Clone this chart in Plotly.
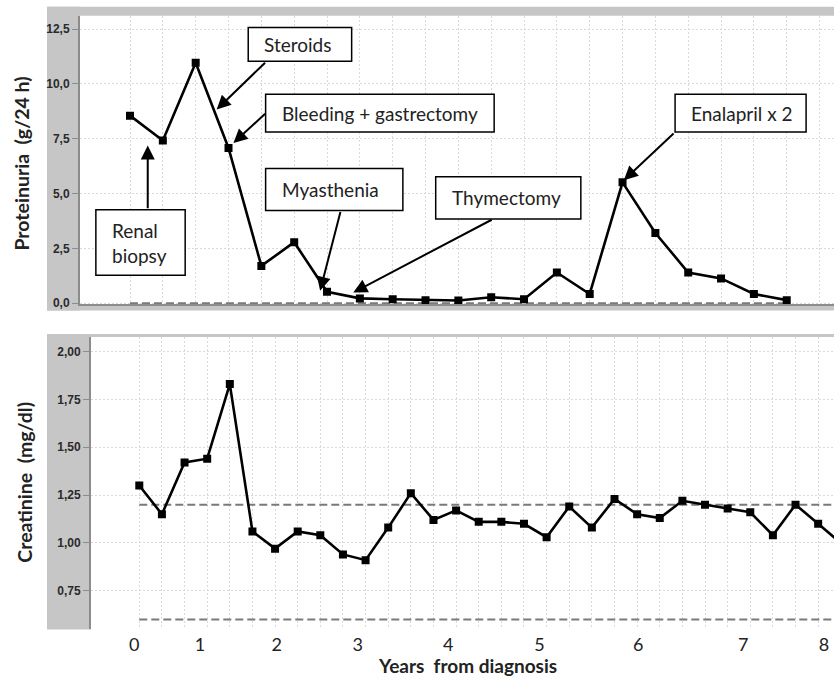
import plotly.graph_objects as go

# ---------------- data ----------------
# Proteinuria (g/24 h), one value per visit (visit index 0..20)
proteinuria = [8.55, 7.42, 10.96, 7.08, 1.70, 2.78, 0.52, 0.22, 0.18, 0.14, 0.12,
               0.27, 0.18, 1.40, 0.42, 5.51, 3.20, 1.40, 1.13, 0.42, 0.14]
proteinuria_ref = 0.0

# Creatinine (mg/dl), one value per visit (visit index 0..31)
creatinine = [1.30, 1.15, 1.42, 1.44, 1.83, 1.06, 0.97, 1.06, 1.04, 0.94, 0.91,
              1.08, 1.26, 1.12, 1.17, 1.11, 1.11, 1.10, 1.03, 1.19, 1.08, 1.23,
              1.15, 1.13, 1.22, 1.20, 1.18, 1.16, 1.04, 1.20, 1.10, 1.00]
creatinine_ref_upper = 1.2
creatinine_ref_lower = 0.6

# Year labels and their positions on the creatinine visit axis
year_labels = ["0", "1", "2", "3", "4", "5", "6", "7", "8"]
year_positions = [-0.22, 2.68, 6.07, 9.65, 13.65, 17.68, 22.05, 26.69, 30.26]

prot_ticks = [0.0, 2.5, 5.0, 7.5, 10.0, 12.5]
prot_ticktext = ["0,0", "2,5", "5,0", "7,5", "10,0", "12,5"]
creat_ticks = [0.75, 1.00, 1.25, 1.50, 1.75, 2.00]
creat_ticktext = ["0,75", "1,00", "1,25", "1,50", "1,75", "2,00"]

# Event annotations (box in proteinuria data coords, arrow tail -> head)
events = [
    dict(text="Steroids", box=(3.60, 6.75, 11.03, 12.57), tail=(4.16, 11.03), head=(2.64, 8.83)),
    dict(text="Bleeding + gastrectomy", box=(4.13, 11.09, 7.80, 9.53), tail=(4.16, 8.70), head=(3.15, 7.30)),
    dict(text="Renal<br>biopsy", box=(-1.04, 1.68, 1.27, 4.26), tail=(0.54, 4.26), head=(0.54, 7.19)),
    dict(text="Myasthenia", box=(4.13, 8.31, 4.23, 6.14), tail=(6.42, 4.23), head=(5.79, 0.57)),
    dict(text="Thymectomy", box=(9.31, 13.73, 3.84, 5.77), tail=(11.06, 3.84), head=(6.80, 0.49)),
    dict(text="Enalapril x 2", box=(16.60, 20.59, 7.80, 9.53), tail=(16.60, 7.80), head=(15.04, 5.61)),
]

# ---------------- layout helpers ----------------
W, H = 834, 682
def xp(px):
    return px / W
def yp(py):
    return 1 - py / H

GRAY = "#c6c6c6"
AXLINE = "#8c8c8c"
GRID = "#d9d9d9"
GRIDDASH = "2px,2px"
DASH = "#7a7a7a"
TXT = "Lato"

fig = go.Figure()

prot_x = list(range(len(proteinuria)))
creat_x = list(range(len(creatinine)))

fig.add_trace(go.Scatter(x=[prot_x[0], prot_x[-1]], y=[proteinuria_ref] * 2,
                         mode="lines", line=dict(color=DASH, width=2, dash="8px,4px"),
                         xaxis="x", yaxis="y", hoverinfo="skip", showlegend=False))
fig.add_trace(go.Scatter(x=prot_x, y=proteinuria, mode="lines+markers",
                         line=dict(color="black", width=2.6),
                         marker=dict(symbol="square", size=8, color="black"),
                         xaxis="x", yaxis="y", showlegend=False))

for ref in (creatinine_ref_upper, creatinine_ref_lower):
    fig.add_trace(go.Scatter(x=[creat_x[0], creat_x[-1]], y=[ref] * 2,
                             mode="lines", line=dict(color=DASH, width=2, dash="8px,4px"),
                             xaxis="x2", yaxis="y2", hoverinfo="skip", showlegend=False))
fig.add_trace(go.Scatter(x=creat_x, y=creatinine, mode="lines+markers",
                         line=dict(color="black", width=2.6),
                         marker=dict(symbol="square", size=8, color="black"),
                         xaxis="x2", yaxis="y2", showlegend=False))

tickfont = dict(family="Liberation Sans", size=12, color="#2a2a2a", weight="bold")

shapes = []
for (x0, x1, y0, y1) in [(47, 80, 6.7, 313.3), (47, 834, 6.7, 16), (47, 834, 307, 313.3),
                         (47, 91, 337, 635), (47, 834, 337, 340)]:
    shapes.append(dict(type="rect", xref="paper", yref="paper",
                       x0=xp(x0), x1=xp(x1), y0=yp(y1), y1=yp(y0),
                       fillcolor=GRAY, line=dict(width=0), layer="below"))

annotations = []
for ev in events:
    bx0, bx1, by0, by1 = ev["box"]
    shapes.append(dict(type="rect", xref="x", yref="y", x0=bx0, x1=bx1, y0=by0, y1=by1,
                       fillcolor="white", line=dict(color="black", width=1.5), layer="above"))
    annotations.append(dict(xref="x", yref="y", x=bx0, y=(by0 + by1) / 2,
                            xanchor="left", yanchor="middle", xshift=14,
                            text=ev["text"], showarrow=False, align="left",
                            font=dict(family=TXT, size=19, color="#222222")))
    annotations.append(dict(xref="x", yref="y", x=ev["head"][0], y=ev["head"][1],
                            axref="x", ayref="y", ax=ev["tail"][0], ay=ev["tail"][1],
                            text="", showarrow=True, arrowhead=2, arrowsize=1.4,
                            arrowwidth=2, arrowcolor="black", standoff=0, startstandoff=0))

annotations += [
    dict(xref="paper", yref="paper", x=xp(22), y=yp(165), text="Proteinuria  (g/24 h)",
         textangle=-90, showarrow=False, xanchor="center", yanchor="middle",
         font=dict(family=TXT, size=19.5, color="#222222", weight="bold")),
    dict(xref="paper", yref="paper", x=xp(25), y=yp(487), text="Creatinine  (mg/dl)",
         textangle=-90, showarrow=False, xanchor="center", yanchor="middle",
         font=dict(family=TXT, size=19.5, color="#222222", weight="bold")),
    dict(xref="paper", yref="paper", x=xp(468), y=yp(671), text="Years  from diagnosis",
         showarrow=False, xanchor="center", yanchor="middle",
         font=dict(family=TXT, size=19, color="#222222", weight="bold")),
]

fig.update_layout(
    width=W, height=H,
    margin=dict(l=0, r=0, t=0, b=0),
    paper_bgcolor="white", plot_bgcolor="white",
    showlegend=False,
    xaxis=dict(domain=[xp(80), 1], range=[-1.523, 21.44], anchor="y",
               tickmode="array", tickvals=list(range(len(proteinuria) + 1)),
               showticklabels=False, ticks="",
               showgrid=True, gridcolor=GRID, griddash=GRIDDASH, gridwidth=1,
               zeroline=False, showline=True, linecolor=AXLINE, linewidth=2),
    yaxis=dict(domain=[yp(307), yp(16)], range=[-0.05, 13.10], anchor="x",
               tickmode="array", tickvals=prot_ticks, ticktext=prot_ticktext,
               tickfont=tickfont, ticks="outside", ticklen=6, tickcolor=AXLINE,
               showgrid=True, gridcolor=GRID, griddash=GRIDDASH, gridwidth=1,
               zeroline=False, showline=True, linecolor=AXLINE, linewidth=2),
    xaxis2=dict(domain=[xp(91), 1], range=[-2.134, 30.70], anchor="y2",
                tickmode="array", tickvals=year_positions, ticktext=year_labels,
                tickfont=dict(family=TXT, size=18, color="#222222"), ticks="",
                ticklabelstandoff=3,
                showgrid=False, zeroline=False, showline=False,
                minor=dict(tickmode="array", tickvals=creat_x[:-1], showgrid=True,
                           gridcolor=GRID, griddash=GRIDDASH, gridwidth=1, ticks="")),
    yaxis2=dict(domain=[yp(635), yp(340)], range=[0.548, 2.076], anchor="x2",
                tickmode="array", tickvals=creat_ticks, ticktext=creat_ticktext,
                tickfont=tickfont, ticks="outside", ticklen=6, tickcolor=AXLINE,
                showgrid=True, gridcolor=GRID, griddash=GRIDDASH, gridwidth=1,
                zeroline=False, showline=True, linecolor=AXLINE, linewidth=2),
    shapes=shapes,
    annotations=annotations,
)

fig.write_html("out.html", config={"displayModeBar": False},
               post_script="document.body.style.margin='0';document.body.style.overflow='hidden';")
